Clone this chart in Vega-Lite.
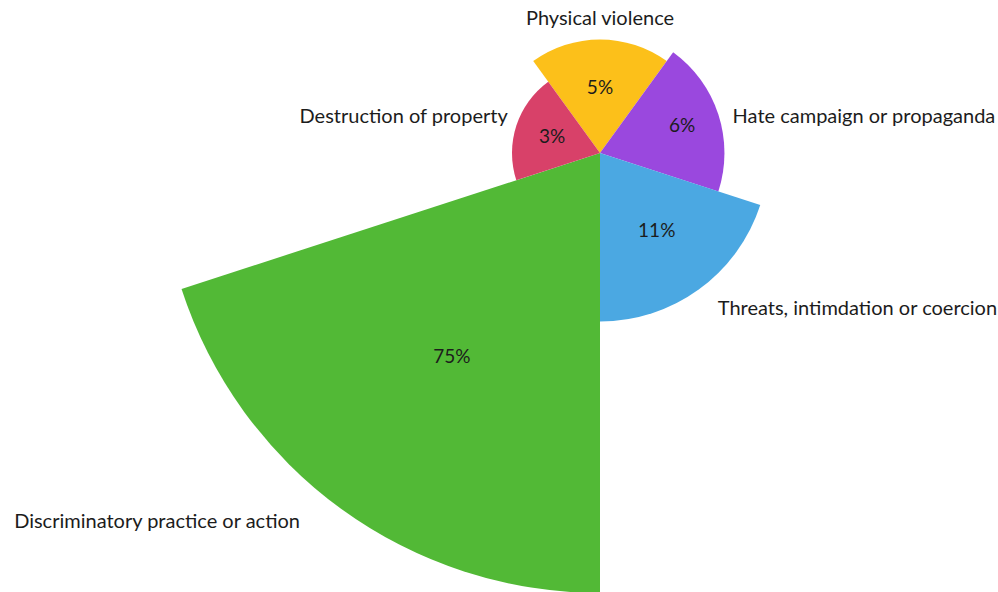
{
  "$schema": "https://vega.github.io/schema/vega-lite/v6.json",
  "autosize": "none",
  "width": 796,
  "height": 306,
  "padding": {"left": 202, "top": 0, "right": 0, "bottom": 286},
  "background": "white",
  "config": {"view": {"stroke": null}, "text": {"font": "Lato", "fontSize": 20, "color": "#1c1c1c"}},
  "data": {"values": [
    {"category": "Physical violence", "share": 0.05},
    {"category": "Hate campaign or propaganda", "share": 0.06},
    {"category": "Threats, intimdation or coercion", "share": 0.11},
    {"category": "Discriminatory practice or action", "share": 0.75},
    {"category": "Destruction of property", "share": 0.03}
  ]},
  "transform": [
    {"aggregate": [{"op": "count", "as": "n"}, {"op": "sum", "field": "share", "as": "pct"}], "groupby": ["category"]},
    {"stack": "n", "groupby": [], "sort": [{"field": "pct", "order": "ascending"}], "as": ["t0", "t1"]}
  ],
  "encoding": {
    "theta": {"field": "t0", "type": "quantitative", "stack": null, "scale": {"domain": [-3.5, 1.5]}}
  },
  "resolve": {"scale": {"radius": "independent"}},
  "layer": [
    {
      "mark": {"type": "arc"},
      "encoding": {
        "theta2": {"field": "t1"},
        "radius": {"field": "pct", "type": "quantitative", "scale": {"type": "sqrt", "zero": true, "domain": [0, 0.75], "range": [0, 440]}},
        "color": {"field": "category", "type": "nominal", "legend": null,
          "scale": {"domain": ["Physical violence", "Hate campaign or propaganda", "Threats, intimdation or coercion", "Discriminatory practice or action", "Destruction of property"],
                    "range": ["#FCC01A", "#9A48DE", "#4BA8E2", "#52B936", "#D84169"]}}
      }
    },
    {
      "mark": {"type": "text", "align": "center", "baseline": "middle", "thetaOffset": 0.6283, "fontSize": 19},
      "encoding": {
        "radius": {"field": "pct", "type": "quantitative", "scale": {"type": "sqrt", "zero": true, "domain": [0, 0.75], "range": [0, 252]}},
        "text": {"condition": {"test": "datum.category !== 'Hate campaign or propaganda'", "field": "pct", "type": "quantitative", "format": ".0%"}, "value": ""}
      }
    },
    {
      "mark": {"type": "text", "align": "center", "baseline": "middle", "thetaOffset": 0.6283, "fontSize": 19},
      "encoding": {
        "radius": {"field": "pct", "type": "quantitative", "scale": {"type": "sqrt", "zero": true, "domain": [0, 0.75], "range": [0, 305]}},
        "text": {"condition": {"test": "datum.category === 'Hate campaign or propaganda'", "field": "pct", "type": "quantitative", "format": ".0%"}, "value": ""}
      }
    },
    {
      "mark": {"type": "text", "align": "center", "baseline": "middle", "thetaOffset": 0.6283, "radiusOffset": 20},
      "encoding": {
        "radius": {"field": "pct", "type": "quantitative", "scale": {"type": "sqrt", "zero": true, "domain": [0, 0.75], "range": [0, 440]}},
        "text": {"condition": {"test": "datum.category === 'Physical violence'", "field": "category", "type": "nominal"}, "value": ""}
      }
    },
    {
      "mark": {"type": "text", "align": "left", "baseline": "middle", "thetaOffset": 0.6283, "radiusOffset": 15, "dy": 7},
      "encoding": {
        "radius": {"field": "pct", "type": "quantitative", "scale": {"type": "sqrt", "zero": true, "domain": [0, 0.75], "range": [0, 440]}},
        "text": {"condition": {"test": "datum.category === 'Hate campaign or propaganda'", "field": "category", "type": "nominal"}, "value": ""}
      }
    },
    {
      "mark": {"type": "text", "align": "left", "baseline": "middle", "thetaOffset": 0.6283, "radiusOffset": 25, "dx": 4, "dy": -1},
      "encoding": {
        "radius": {"field": "pct", "type": "quantitative", "scale": {"type": "sqrt", "zero": true, "domain": [0, 0.75], "range": [0, 440]}},
        "text": {"condition": {"test": "datum.category === 'Threats, intimdation or coercion'", "field": "category", "type": "nominal"}, "value": ""}
      }
    },
    {
      "mark": {"type": "text", "align": "right", "baseline": "middle", "thetaOffset": 0.6283, "radiusOffset": 16, "dx": -32},
      "encoding": {
        "radius": {"field": "pct", "type": "quantitative", "scale": {"type": "sqrt", "zero": true, "domain": [0, 0.75], "range": [0, 440]}},
        "text": {"condition": {"test": "datum.category === 'Discriminatory practice or action'", "field": "category", "type": "nominal"}, "value": ""}
      }
    },
    {
      "mark": {"type": "text", "align": "right", "baseline": "middle", "thetaOffset": 0.6283, "radiusOffset": 9, "dy": -6},
      "encoding": {
        "radius": {"field": "pct", "type": "quantitative", "scale": {"type": "sqrt", "zero": true, "domain": [0, 0.75], "range": [0, 440]}},
        "text": {"condition": {"test": "datum.category === 'Destruction of property'", "field": "category", "type": "nominal"}, "value": ""}
      }
    }
  ]
}
